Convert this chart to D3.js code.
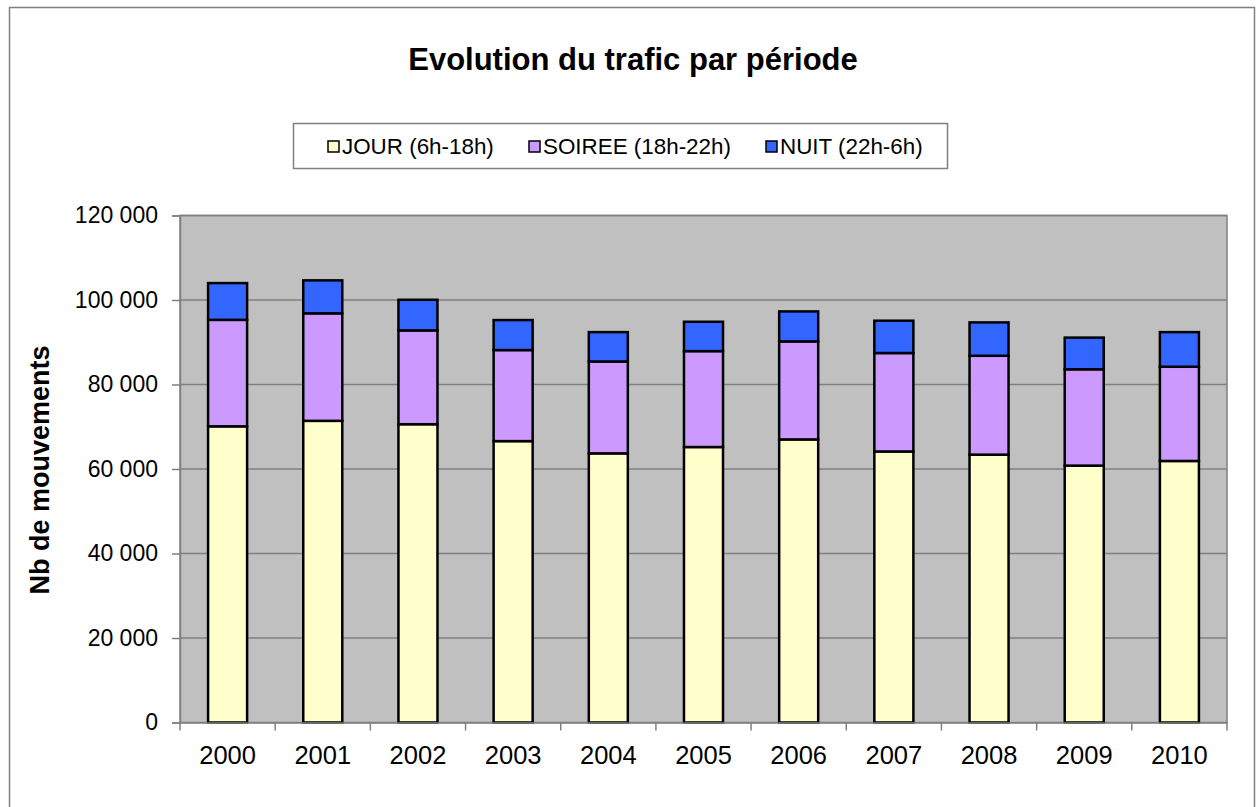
<!DOCTYPE html>
<html><head><meta charset="utf-8">
<script src="https://cdn.jsdelivr.net/npm/d3@7"></script>
<style>body{margin:0;background:#fff}svg{display:block;font-family:Arial,"Liberation Sans",sans-serif}</style>
</head><body><svg id="c" width="1256" height="807"></svg>
<script>
const years = ["2000","2001","2002","2003","2004","2005","2006","2007","2008","2009","2010"];
const jour   = [70100,71400,70600,66600,63700,65200,67000,64150,63400,60800,61900];
const soiree = [25200,25450,22200,21550,21750,22700,23200,23300,23400,22800,22300];
const nuit   = [8700,7800,7250,7100,6950,6950,7100,7650,7900,7500,8200];
const seriesNames = ["JOUR (6h-18h)","SOIREE (18h-22h)","NUIT (22h-6h)"];
const seriesColors = ["#FFFFCC","#CC99FF","#3366FF"];
const yTicks = [0,20000,40000,60000,80000,100000,120000];

const svg = d3.select("#c");
svg.append("rect").attr("x",9.5).attr("y",7.5).attr("width",1245).attr("height",820)
  .attr("fill","#fff").attr("stroke","#808080").attr("stroke-width",1.5);

const L=180, R=1227, T=215.5, B=722.5;
const x = d3.scaleBand().domain(years).range([L,R]).padding(0);
const y = d3.scaleLinear().domain([0,120000]).range([B,T]);

svg.append("rect").attr("x",L).attr("y",T).attr("width",R-L).attr("height",B-T)
  .attr("fill","#C0C0C0").attr("stroke","#808080").attr("stroke-width",1.5);

svg.append("g").selectAll("line").data(yTicks.filter(d=>d>0)).join("line")
  .attr("x1",L).attr("x2",R).attr("y1",d=>y(d)).attr("y2",d=>y(d))
  .attr("stroke","#808080").attr("stroke-width",1.5);

const data = years.map((yr,i)=>({year:yr, j:jour[i], s:soiree[i], n:nuit[i]}));
const stack = d3.stack().keys(["j","s","n"])(data);
const bw = x.bandwidth()*0.41;
svg.append("g").selectAll("g").data(stack).join("g")
  .attr("fill",(d,i)=>seriesColors[i])
  .selectAll("rect").data(d=>d).join("rect")
  .attr("x",d=>x(d.data.year)+(x.bandwidth()-bw)/2)
  .attr("width",bw)
  .attr("y",d=>y(d[1]))
  .attr("height",d=>y(d[0])-y(d[1]))
  .attr("stroke","#000").attr("stroke-width",2.5);

const fmt = d=> d3.format(",")(d).replace(/,/g," ");
const ya = svg.append("g").attr("transform",`translate(${L},0)`)
  .call(d3.axisLeft(y).tickValues(yTicks).tickFormat(fmt).tickSize(8).tickPadding(14));
ya.select(".domain").attr("stroke","#808080").attr("stroke-width",1.5);
ya.selectAll(".tick line").attr("stroke","#808080").attr("stroke-width",1.5);
ya.selectAll("text").attr("font-size",23).attr("fill","#000").attr("font-family","Arial, Liberation Sans, sans-serif");

const xa = svg.append("g").attr("transform",`translate(0,${B})`)
  .call(d3.axisBottom(x).tickSize(0).tickPadding(23));
xa.select(".domain").attr("stroke","#808080").attr("stroke-width",1.5);
xa.selectAll("text").attr("font-size",25.5).attr("fill","#000").attr("font-family","Arial, Liberation Sans, sans-serif");
const bounds = years.map(d=>x(d)).concat([R]);
svg.append("g").selectAll("line").data(bounds).join("line")
  .attr("x1",d=>d).attr("x2",d=>d).attr("y1",B).attr("y2",B+8)
  .attr("stroke","#808080").attr("stroke-width",1.5);

svg.append("text").attr("x",633).attr("y",70).attr("text-anchor","middle")
  .attr("font-size",31).attr("font-weight","bold").text("Evolution du trafic par période");

svg.append("text").attr("transform","translate(49,470) rotate(-90)").attr("text-anchor","middle")
  .attr("font-size",27).attr("font-weight","bold").text("Nb de mouvements");

svg.append("rect").attr("x",293.5).attr("y",123.5).attr("width",654).attr("height",45)
  .attr("fill","#fff").attr("stroke","#808080").attr("stroke-width",1.5);
const legX = [328,529,766];
const lg = svg.append("g").selectAll("g").data(seriesNames).join("g")
  .attr("transform",(d,i)=>`translate(${legX[i]},146)`);
lg.append("rect").attr("x",0).attr("y",-5).attr("width",11).attr("height",11)
  .attr("fill",(d,i)=>seriesColors[i]).attr("stroke","#000").attr("stroke-width",1.5);
lg.append("text").attr("x",14).attr("y",8).attr("font-size",22.4).text(d=>d);
</script></body></html>
